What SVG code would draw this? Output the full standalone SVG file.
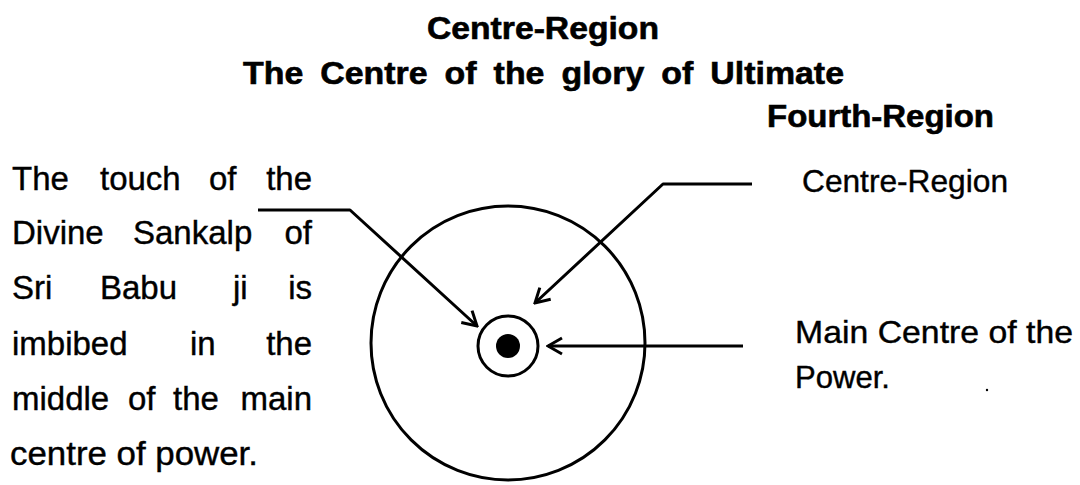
<svg xmlns="http://www.w3.org/2000/svg" width="1080" height="485" viewBox="0 0 1080 485">
  <style>
    .t{font-family:"Liberation Sans",Arial,sans-serif;font-size:32px;fill:#000;stroke:#000;stroke-width:0.4}
    .b{font-family:"Liberation Sans",Arial,sans-serif;font-size:31px;font-weight:bold;fill:#000;stroke:#000;stroke-width:0.6}
    .ln{fill:none;stroke:#000;stroke-width:3;stroke-linejoin:round}
    .e{text-anchor:end}
  </style>
  <defs>
    <marker id="ah" markerUnits="userSpaceOnUse" markerWidth="22" markerHeight="22" viewBox="0 0 22 22" refX="20" refY="11" orient="auto">
      <path d="M6,3 L20,11 L6,19" fill="none" stroke="#000" stroke-width="3" stroke-linejoin="miter"/>
    </marker>
  </defs>
  <rect width="1080" height="485" fill="#fff"/>

  <g id="title">
    <text class="b" x="427" y="39" textLength="232" lengthAdjust="spacingAndGlyphs">Centre-Region</text>
    <text class="b" x="243" y="84" word-spacing="7" textLength="601" lengthAdjust="spacingAndGlyphs">The Centre of the glory of Ultimate</text>
    <text class="b" x="767" y="127" textLength="227" lengthAdjust="spacingAndGlyphs">Fourth-Region</text>
  </g>

  <g id="left-note" class="t" style="font-size:33px">
    <text x="12" y="190">The</text><text x="100" y="190">touch</text><text x="209" y="190">of</text><text class="e" x="312" y="190">the</text>
    <text x="12" y="244">Divine</text><text x="133" y="244">Sankalp</text><text class="e" x="312" y="244">of</text>
    <text x="12" y="299">Sri</text><text x="100" y="299">Babu</text><text x="233" y="299">ji</text><text class="e" x="312" y="299">is</text>
    <text x="12" y="355">imbibed</text><text x="190" y="355">in</text><text class="e" x="312" y="355">the</text>
    <text x="12" y="410">middle</text><text x="128" y="410">of</text><text x="173" y="410">the</text><text class="e" x="312" y="410">main</text>
    <text x="10" y="465" textLength="248" lengthAdjust="spacingAndGlyphs">centre of power.</text>
  </g>

  <g id="outer-circle">
    <circle cx="508" cy="343" r="137" fill="none" stroke="#000" stroke-width="3"/>
  </g>
  <g id="main-centre">
    <circle cx="508" cy="346" r="30" fill="none" stroke="#000" stroke-width="3"/>
    <circle cx="508" cy="346" r="12" fill="#000"/>
  </g>

  <g id="label-centre-region">
    <text class="t" x="802" y="192" textLength="206" lengthAdjust="spacingAndGlyphs">Centre-Region</text>
  </g>
  <g id="label-main-centre">
    <text class="t" x="795" y="343" textLength="278" lengthAdjust="spacingAndGlyphs">Main Centre of the</text>
    <text class="t" x="795" y="388" textLength="95" lengthAdjust="spacingAndGlyphs">Power.</text>
    <circle cx="987" cy="390" r="1.2" fill="#000"/>
  </g>

  <g id="connectors">
    <polyline class="ln" points="258,210 350,210 477,326" marker-end="url(#ah)"/>
    <polyline class="ln" points="752,184 663,184 535,303" marker-end="url(#ah)"/>
    <polyline class="ln" points="743,346 548,346" marker-end="url(#ah)"/>
  </g>
</svg>
